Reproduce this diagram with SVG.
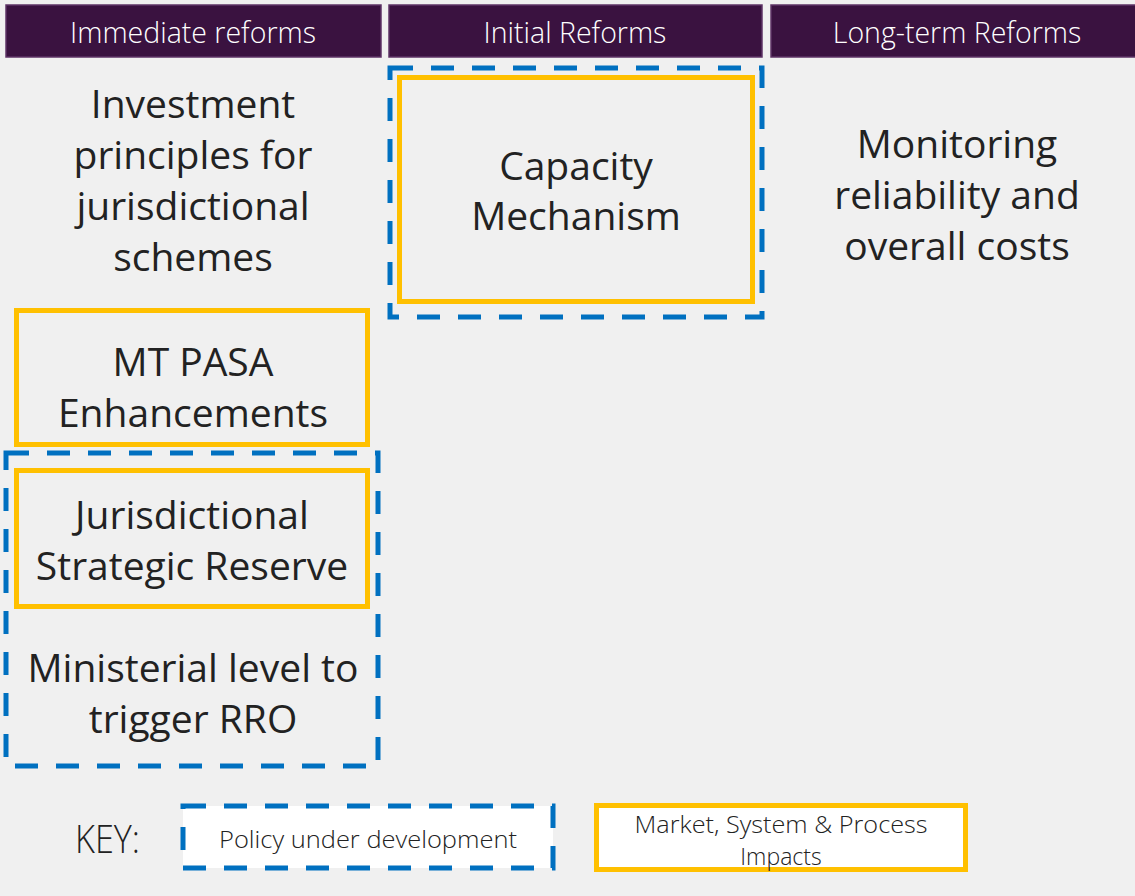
<svg xmlns="http://www.w3.org/2000/svg" width="1135" height="896" viewBox="0 0 1135 896">
<style>
.hdr{fill:#3a1240;stroke:#5e3366;stroke-width:1.5}
.hdrt{font-family:"Open Sans","Noto Sans",sans-serif;font-size:28.5px;font-weight:300;fill:#ffffff;text-anchor:middle}
.t{font-family:"Open Sans","Noto Sans",sans-serif;font-size:39px;fill:#222222;text-anchor:middle}
.y{fill:none;stroke:#ffc000;stroke-width:5}
.b{fill:none;stroke:#0070c0;stroke-width:5;stroke-dasharray:23 18}
.k{font-family:"Open Sans","Noto Sans",sans-serif;font-size:23px;font-weight:300;fill:#222222;text-anchor:middle}
</style>
<rect x="0" y="0" width="1135" height="896" fill="#f0f0f0"/>
<g id="header-immediate"><rect class="hdr" x="6" y="5" width="375" height="52"/><text class="hdrt" x="193" y="43">Immediate reforms</text></g>
<g id="header-initial"><rect class="hdr" x="389" y="5" width="373" height="52"/><text class="hdrt" x="575" y="43">Initial Reforms</text></g>
<g id="header-longterm"><rect class="hdr" x="771" y="5" width="370" height="52"/><text class="hdrt" x="957" y="43">Long-term Reforms</text></g>
<g id="investment"><text class="t" x="193"><tspan x="193" y="118">Investment</tspan><tspan x="193" y="169">principles for</tspan><tspan x="193" y="220">jurisdictional</tspan><tspan x="193" y="271">schemes</tspan></text></g>
<g id="capacity"><rect class="b" x="390" y="68" width="372" height="249"/><rect class="y" x="399.5" y="77.5" width="353" height="224"/><text class="t"><tspan x="576" y="180">Capacity</tspan><tspan x="576" y="230">Mechanism</tspan></text></g>
<g id="monitoring"><text class="t"><tspan x="957" y="158">Monitoring</tspan><tspan x="957" y="209">reliability and</tspan><tspan x="957" y="260">overall costs</tspan></text></g>
<g id="mtpasa"><rect class="y" x="16.5" y="310.5" width="351" height="134"/><text class="t"><tspan x="193" y="376">MT PASA</tspan><tspan x="193" y="427">Enhancements</tspan></text></g>
<g id="policy-group"><rect class="b" x="6" y="453" width="372" height="313"/></g>
<g id="jsr"><rect class="y" x="16.5" y="470.5" width="351" height="136"/><text class="t"><tspan x="192" y="529">Jurisdictional</tspan><tspan x="192" y="580">Strategic Reserve</tspan></text></g>
<g id="ministerial"><text class="t"><tspan x="193" y="682">Ministerial level to</tspan><tspan x="193" y="733">trigger RRO</tspan></text></g>
<g id="key">
<text class="k" x="107.5" y="853" style="font-size:38px" textLength="65" lengthAdjust="spacingAndGlyphs">KEY:</text>
<rect x="183" y="806" width="370" height="62" fill="#ffffff"/><rect class="b" x="183" y="806" width="370" height="62"/>
<text class="k" x="368" y="848" textLength="298" lengthAdjust="spacingAndGlyphs">Policy under development</text>
<rect x="596.5" y="805.5" width="369" height="64" fill="#ffffff" stroke="#ffc000" stroke-width="5"/>
<text class="k"><tspan x="781" y="833" textLength="293" lengthAdjust="spacingAndGlyphs">Market, System &amp; Process</tspan><tspan x="781" y="865">Impacts</tspan></text>
</g>
</svg>
